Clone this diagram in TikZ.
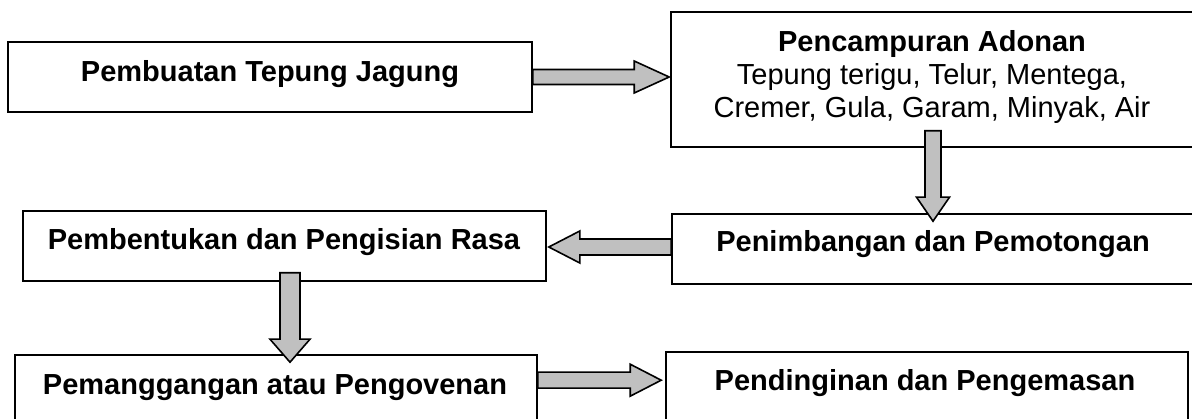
\documentclass[tikz,border=0pt]{standalone}
\usepackage{fontspec}
\setmainfont{Liberation Sans}
\usetikzlibrary{calc}
\definecolor{arrowgray}{RGB}{192,192,192}
\tikzset{
  box/.style={draw=black, line width=1.6pt, fill=white, rectangle, inner sep=0pt},
  lbl/.style={anchor=base, inner sep=0pt, font=\fontsize{29}{33}\selectfont\bfseries},
  lblreg/.style={anchor=base, inner sep=0pt, font=\fontsize{29}{33}\selectfont},
  blkarrow/.style={draw=black, fill=arrowgray, line width=1.6pt, line join=miter},
}
\begin{document}
\begin{tikzpicture}[x=1pt,y=-1pt]
\useasboundingbox (0,0) rectangle (1192,419);
\clip (0,0) rectangle (1192,419);
\fill[white] (0,0) rectangle (1192,419);
% boxes
\node[box, minimum width=524pt, minimum height=70pt] (b1) at (270,77) {};
\node[box, minimum width=522pt, minimum height=135pt] (b2) at (932,79.5) {};
\node[box, minimum width=523pt, minimum height=70pt] (b3) at (284.5,246) {};
\node[box, minimum width=522pt, minimum height=70pt] (b4) at (933,249) {};
\node[box, minimum width=522pt, minimum height=70pt] (b5) at (276,390) {};
\node[box, minimum width=522pt, minimum height=70pt] (b6) at (927,387) {};
% texts
\node[lbl] (t1) at (270,82) {Pembuatan Tepung Jagung};
\node[lbl] (t2a) at (932,52) {Pencampuran Adonan};
\node[lblreg] (t2b) at (932,85) {Tepung terigu, Telur, Mentega,};
\node[lblreg] (t2c) at (932,118) {Cremer, Gula, Garam, Minyak, Air};
\node[lbl] (t3) at (284,250) {Pembentukan dan Pengisian Rasa};
\node[lbl] (t4) at (933,252) {Penimbangan dan Pemotongan};
\node[lbl] (t5) at (275,395) {Pemanggangan atau Pengovenan};
\node[lbl] (t6) at (925,391) {Pendinginan dan Pengemasan};
% arrow b1 -> b2
\filldraw[blkarrow] let \p1=(b1.east), \p2=(b2.west), \p3=(\x2-1pt,\y1) in
  (\x1,\y3+7.5pt) -- (\x3-35pt,\y3+7.5pt) -- (\x3-35pt,\y3+16pt) -- (\x3,\y3)
  -- (\x3-35pt,\y3-16pt) -- (\x3-35pt,\y3-7.5pt) -- (\x1,\y3-7.5pt) -- cycle;
% arrow b2 -> b4 (down)
\filldraw[blkarrow] let \p1=([xshift=1pt,yshift=17pt]b2.south), \p2=([yshift=-8pt]b4.north) in
  (\x1-8pt,\y1) -- (\x1-8pt,\y2+24pt) -- (\x1-16.5pt,\y2+24pt) -- (\x1,\y2)
  -- (\x1+16.5pt,\y2+24pt) -- (\x1+8pt,\y2+24pt) -- (\x1+8pt,\y1) -- cycle;
% arrow b4 -> b3 (left)
\filldraw[blkarrow] let \p1=(b4.west), \p2=(b3.east), \p3=(\x2+2pt,\y2-1pt) in
  (\x1,\y3+8pt) -- (\x3+31pt,\y3+8pt) -- (\x3+31pt,\y3+16pt) -- (\x3,\y3)
  -- (\x3+31pt,\y3-16pt) -- (\x3+31pt,\y3-8pt) -- (\x1,\y3-8pt) -- cycle;
% arrow b3 -> b5 (down)
\filldraw[blkarrow] let \p1=([xshift=5.5pt,yshift=9pt]b3.south), \p2=([yshift=-8pt]b5.north) in
  (\x1-10pt,\y1) -- (\x1-10pt,\y2+23pt) -- (\x1-20pt,\y2+23pt) -- (\x1,\y2)
  -- (\x1+20pt,\y2+23pt) -- (\x1+10pt,\y2+23pt) -- (\x1+10pt,\y1) -- cycle;
% arrow b5 -> b6
\filldraw[blkarrow] let \p1=(b5.east), \p2=(b6.north west), \p3=(\x2-4pt,\y2-29pt) in
  (\x1,\y3+8pt) -- (\x3-31pt,\y3+8pt) -- (\x3-31pt,\y3+16pt) -- (\x3,\y3)
  -- (\x3-31pt,\y3-16pt) -- (\x3-31pt,\y3-8pt) -- (\x1,\y3-8pt) -- cycle;
\end{tikzpicture}
\end{document}
